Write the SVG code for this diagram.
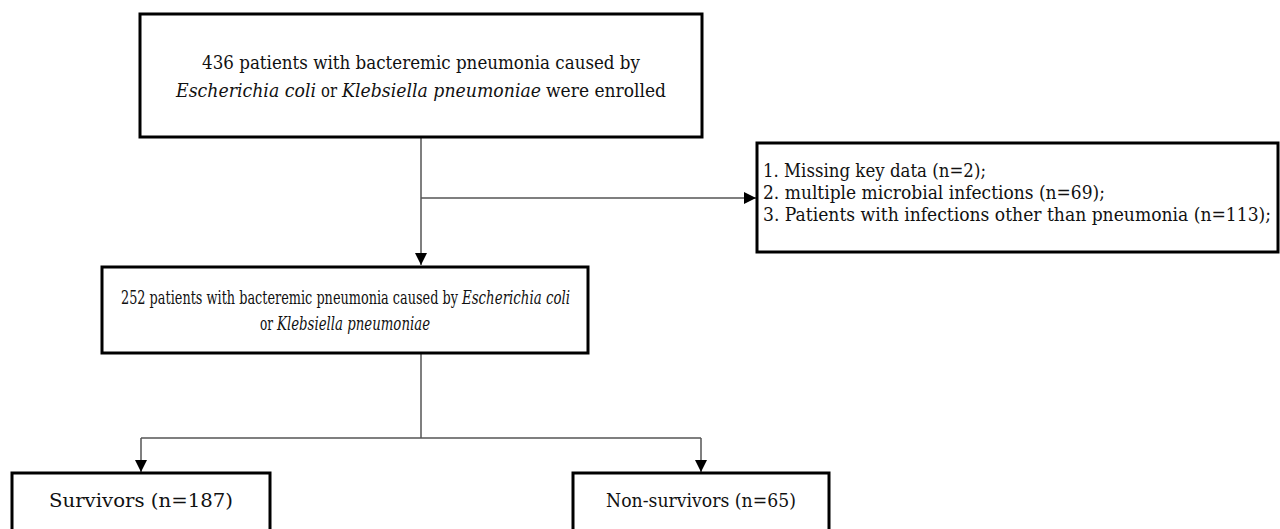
<svg xmlns="http://www.w3.org/2000/svg" width="1280" height="529" viewBox="0 0 1280 529">
<style>
.box{fill:#fff;stroke:#000;stroke-width:3}
.t{font-family:'DejaVu Serif','Liberation Serif',serif;font-size:18px;fill:#111}
.m{font-size:19px}
.c{fill:none;stroke:#555;stroke-width:1.5}
.i{font-style:italic}
</style>
<defs>
<marker id="ah" viewBox="0 0 10 10" refX="10" refY="5" markerWidth="12" markerHeight="12" markerUnits="userSpaceOnUse" orient="auto">
<path d="M0,0 L10,5 L0,10 z" fill="#000"/>
</marker>
</defs>
<rect width="1280" height="529" fill="#fff"/>
<g id="connectors">
<line class="c" x1="421" y1="137" x2="421" y2="265" marker-end="url(#ah)"/>
<line class="c" x1="421" y1="198" x2="756" y2="198" marker-end="url(#ah)"/>
<line class="c" x1="421" y1="354" x2="421" y2="438"/>
<line class="c" x1="141" y1="438" x2="701" y2="438"/>
<line class="c" x1="141" y1="438" x2="141" y2="472" marker-end="url(#ah)"/>
<line class="c" x1="701" y1="438" x2="701" y2="472" marker-end="url(#ah)"/>
</g>
<g id="n1">
<rect class="box" x="140" y="14" width="562" height="123"/>
<text class="t" x="202" y="69" textLength="438" lengthAdjust="spacingAndGlyphs">436 patients with bacteremic pneumonia caused by</text>
<text class="t i" x="176" y="97" textLength="140" lengthAdjust="spacingAndGlyphs">Escherichia coli</text>
<text class="t" x="321" y="97" textLength="16" lengthAdjust="spacingAndGlyphs">or</text>
<text class="t i" x="342" y="97" textLength="199" lengthAdjust="spacingAndGlyphs">Klebsiella pneumoniae</text>
<text class="t" x="546" y="97" textLength="120" lengthAdjust="spacingAndGlyphs">were enrolled</text>
</g>
<g id="n2">
<rect class="box" x="757" y="143" width="521" height="109"/>
<text class="t" x="763" y="177" textLength="223" lengthAdjust="spacingAndGlyphs">1. Missing key data (n=2);</text>
<text class="t" x="763" y="199" textLength="342" lengthAdjust="spacingAndGlyphs">2. multiple microbial infections (n=69);</text>
<text class="t" transform="translate(763,221) scale(0.87,1)" x="0" y="0" textLength="584" lengthAdjust="spacingAndGlyphs">3. Patients with infections other than pneumonia (n=113);</text>
</g>
<g id="n3">
<rect class="box" x="102" y="267" width="486" height="86"/>
<text class="t m" transform="translate(121,304) scale(0.68,1)" x="0" y="0" textLength="495.6" lengthAdjust="spacingAndGlyphs">252 patients with bacteremic pneumonia caused by</text>
<text class="t m i" transform="translate(462,304) scale(0.7,1)" x="0" y="0" textLength="154.3" lengthAdjust="spacingAndGlyphs">Escherichia coli</text>
<text class="t m" transform="translate(260,330) scale(0.7,1)" x="0" y="0" textLength="18.6" lengthAdjust="spacingAndGlyphs">or</text>
<text class="t m i" transform="translate(277,330) scale(0.7,1)" x="0" y="0" textLength="218.6" lengthAdjust="spacingAndGlyphs">Klebsiella pneumoniae</text>
</g>
<g id="n4">
<rect class="box" x="12" y="473" width="258" height="80"/>
<text class="t m" transform="translate(49,507) scale(0.85,1)" x="0" y="0" textLength="216.5" lengthAdjust="spacingAndGlyphs">Survivors (n=187)</text>
</g>
<g id="n5">
<rect class="box" x="573" y="473" width="256" height="80"/>
<text class="t m" transform="translate(606,507) scale(0.85,1)" x="0" y="0" textLength="223.5" lengthAdjust="spacingAndGlyphs">Non-survivors (n=65)</text>
</g>
</svg>
